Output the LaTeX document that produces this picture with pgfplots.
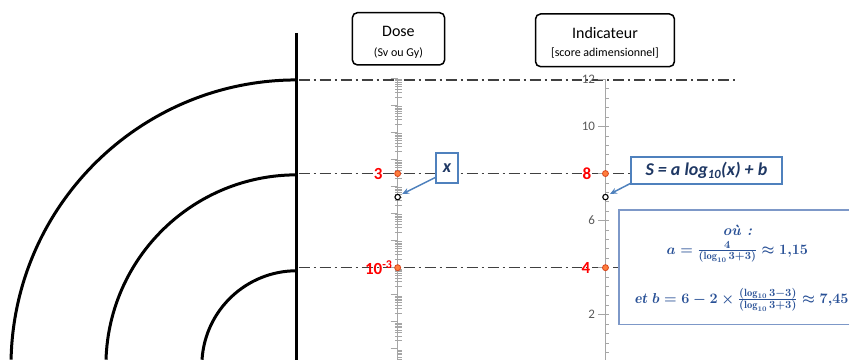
\documentclass[border=0pt]{standalone}
\usepackage{pgfplots}
\pgfplotsset{compat=1.18}
\usepackage{fontspec}
\usetikzlibrary{arrows.meta}
\newfontfamily\calibri{Carlito}

\definecolor{axgray}{RGB}{166,166,166}
\definecolor{lblgray}{RGB}{89,89,89}
\definecolor{guide}{RGB}{64,64,64}
\definecolor{boxblue}{RGB}{79,129,189}
\definecolor{navy}{RGB}{31,56,100}
\definecolor{eqblue}{RGB}{40,80,150}
\definecolor{frameblue}{RGB}{125,152,200}
\definecolor{dotfill}{RGB}{255,125,60}
\definecolor{dotedge}{RGB}{215,70,30}
\definecolor{lblred}{RGB}{255,0,0}

% minor positions of the logarithmic dose scale (2..9 in each decade)
\def\doseminor{4e-7,5e-7,6e-7,7e-7,8e-7,9e-7}
\foreach \e in {-6,...,3}{\foreach \m in {2,...,9}{\xdef\doseminor{\doseminor,\m e\e}}}

\pgfplotsset{
  vscale/.style={scale only axis, width=10pt, xmin=0, xmax=1,
    axis x line=none, axis y line*=left, clip=false, anchor=south west,
    y axis line style={axgray, line width=1pt},
    every tick/.style={axgray, line width=0.8pt}},
  majorside/.style={tick align=outside, major tick length=7pt, minor tick num=0},
  minorside/.style={tick align=inside, major tick length=4pt, minor tick num=0,
    yticklabel={\mbox{}}, y axis line style={draw=none}},
  reddot/.style={only marks, mark=*, mark size=3pt,
    mark options={fill=dotfill, draw=dotedge, line width=0.8pt}},
  opendot/.style={only marks, mark=*, mark size=2.7pt,
    mark options={fill=white, draw=black, line width=1.1pt}},
}
\tikzset{
  redlabel/.style={anchor=east, inner sep=0pt, text=lblred,
    font=\calibri\fontsize{17}{17}\selectfont\bfseries},
}
\newsavebox\coefabox
\newsavebox\coefbbox

\begin{document}
\sbox\coefabox{\color{eqblue}\fontsize{15}{17}\selectfont\boldmath$a=\frac{4}{(\log_{10}3+3)}\approx 1{,}15$}%
\sbox\coefbbox{\color{eqblue}\fontsize{15}{17}\selectfont\boldmath$\mathit{et}\ b=6-2\times\frac{(\log_{10}3-3)}{(\log_{10}3+3)}\approx 7{,}45$}%
\begin{tikzpicture}[x=1pt, y=1pt]
% picture frame
\path (0,0) rectangle (850,360);

% radiation source: wall and concentric fronts
\draw[line width=3pt] (297,327) -- (297,0);
\draw[line width=3pt] (297,89) arc[start angle=90, end angle=176.4, radius=95];
\draw[line width=3pt] (297,185) arc[start angle=90, end angle=178.2, radius=191];
\draw[line width=3pt] (297,280) arc[start angle=90, end angle=178.8, radius=286];

% correspondence lines
\begin{scope}[guide, line width=1.4pt, dash pattern=on 11pt off 4pt on 2pt off 4pt]
  \draw (299,280) -- (737,280);
  \draw (299,186.3) -- (640,186.3);
  \draw (299,92.1) -- (625,92.1);
\end{scope}

% scale titles
\draw[line width=1.5pt, rounded corners=5pt] (352.7,295) rectangle (445,347.3);
\node[font=\calibri\fontsize{16}{16}\selectfont] at (398.8,328.3) {Dose};
\node[font=\calibri\fontsize{12}{12}\selectfont] at (398.8,307.3) {(Sv ou Gy)};
\draw[line width=1.5pt, rounded corners=5pt] (536,293.3) rectangle (675,346);
\node[font=\calibri\fontsize{16}{16}\selectfont] at (605.5,327.3) {Indicateur};
\node[font=\calibri\fontsize{12}{12}\selectfont] at (605.5,307.3) {[score adimensionnel]};

% dose scale (logarithmic)
\begin{axis}[vscale, minorside, at={(398pt,0pt)}, height=281.7pt,
  ymode=log, ymin=3.984e-7, ymax=1e4, ytick/.expanded={\doseminor}]
\end{axis}
\begin{axis}[vscale, majorside, at={(398pt,0pt)}, height=281.7pt,
  ymode=log, ymin=3.984e-7, ymax=1e4, yticklabel={\mbox{}},
  ytick={1e-6,1e-5,1e-4,1e-3,1e-2,1e-1,1,10,100,1000,10000}]
  \addplot[reddot] coordinates {(0,3) (0,1e-3)};
  \addplot[opendot] coordinates {(0,0.406)};
  \node[redlabel, xshift=-15pt] at (axis cs:0,3) {3};
  \node[redlabel, xshift=-5pt] at (axis cs:0,1e-3) {10\textsuperscript{-3}};
\end{axis}

% indicator scale (linear)
\begin{axis}[vscale, minorside, at={(606pt,0pt)}, height=280.5pt,
  ymin=0.089, ymax=12, ytick={0.4,0.8,...,11.6}]
\end{axis}
\begin{axis}[vscale, majorside, at={(606pt,0pt)}, height=280.5pt,
  ymin=0.089, ymax=12, ytick={2,4,...,12},
  yticklabels={2,\mbox{},6,\mbox{},10,12},
  yticklabel style={text=lblgray, font=\calibri\fontsize{13}{13}\selectfont}]
  \addplot[reddot] coordinates {(0,8) (0,4)};
  \addplot[opendot] coordinates {(0,7)};
  \node[redlabel, xshift=-14pt] at (axis cs:0,8) {8};
  \node[redlabel, xshift=-15pt] at (axis cs:0,4) {4};
\end{axis}

% call-outs
\draw[boxblue, line width=1.5pt, -{Stealth[length=7pt, width=6pt]}] (439,184) -- (402.5,165.8);
\draw[boxblue, line width=1.5pt, -{Stealth[length=7pt, width=6pt]}] (634,178) -- (610.5,165.8);
\draw[boxblue, line width=2pt, fill=white] (436.7,177.3) rectangle (458.3,206.7);
\node[text=navy, font=\calibri\fontsize{18}{18}\selectfont\bfseries\itshape] at (447.5,192) {x};
\draw[boxblue, line width=2pt, fill=white] (632,176) rectangle (783,203);
\node[text=navy, font=\calibri\fontsize{18}{18}\selectfont\bfseries\itshape] at (707,189.5) {S = a log\textsubscript{10}(x) + b};

% coefficients
\fill[white] (619.3,35) rectangle (850,150);
\draw[frameblue, line width=1.5pt] (850,35) -- (619.3,35) -- (619.3,150) -- (850,150);
\node[text=eqblue, font=\fontsize{15}{15}\selectfont\bfseries\itshape] at (738,129) {où~:};
\node at (738,108) {\usebox\coefabox};
\node[anchor=east, inner sep=0pt] at (849.5,60) {\usebox\coefbbox};
\end{tikzpicture}
\end{document}
